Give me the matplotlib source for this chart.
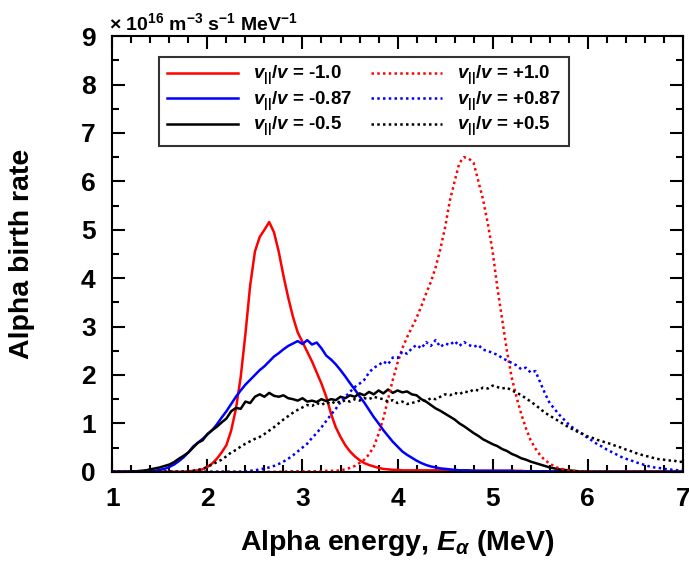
import numpy as np
import matplotlib
matplotlib.use('Agg')
import matplotlib.pyplot as plt
from matplotlib.ticker import MultipleLocator

plt.rcParams['font.family'] = ['Liberation Sans', 'DejaVu Sans']
plt.rcParams['font.weight'] = 'bold'
plt.rcParams['mathtext.fontset'] = 'custom'
plt.rcParams['mathtext.rm'] = 'Liberation Sans:bold'
plt.rcParams['mathtext.it'] = 'Liberation Sans:italic:bold'
plt.rcParams['mathtext.bf'] = 'Liberation Sans:bold'

# energy grid, 1 - 7 MeV in 0.05 MeV steps
energy = np.linspace(1.0, 7.0, 121)

# alpha birth rate (x 1e16 m^-3 s^-1 MeV^-1)
neg_100 = [0, 0, 0, 0, 0, 0, 0, 0, 0, 0,
           0, 0, 0, 0, 0, 0, 0.01, 0.02, 0.03, 0.05,
           0.1, 0.17, 0.27, 0.4, 0.55, 0.85, 1.3, 1.95, 2.85, 3.85,
           4.55, 4.85, 5.0, 5.16, 4.95, 4.55, 4.05, 3.6, 3.2, 2.88,
           2.68, 2.48, 2.28, 2.05, 1.82, 1.55, 1.2, 0.92, 0.72, 0.55,
           0.42, 0.32, 0.24, 0.18, 0.14, 0.11, 0.08, 0.06, 0.05, 0.04,
           0.04, 0.03, 0.03, 0.03, 0.03, 0.03, 0.03, 0.03, 0.03, 0.03,
           0.03, 0.03, 0.03, 0.03, 0.03, 0.02, 0.02, 0.02, 0.02, 0.02,
           0.02, 0.02, 0.02, 0.02, 0.02, 0.02, 0.02, 0.01, 0.01, 0.01,
           0.01, 0.01, 0.01, 0.01, 0.01, 0, 0, 0, 0, 0,
           0, 0, 0, 0, 0, 0, 0, 0, 0, 0,
           0, 0, 0, 0, 0, 0, 0, 0, 0, 0,
           0]
neg_087 = [0, 0, 0, 0, 0, 0, 0, 0, 0.01, 0.02,
           0.04, 0.06, 0.1, 0.15, 0.22, 0.3, 0.4, 0.52, 0.6, 0.68,
           0.77, 0.86, 0.98, 1.12, 1.25, 1.4, 1.55, 1.68, 1.8, 1.9,
           2.0, 2.1, 2.18, 2.28, 2.38, 2.45, 2.53, 2.6, 2.65, 2.7,
           2.64, 2.72, 2.63, 2.67, 2.55, 2.4, 2.32, 2.22, 2.1, 1.97,
           1.83, 1.7, 1.56, 1.43, 1.28, 1.13, 1.0, 0.86, 0.74, 0.62,
           0.52, 0.42, 0.35, 0.29, 0.23, 0.18, 0.14, 0.11, 0.09, 0.07,
           0.06, 0.05, 0.04, 0.03, 0.03, 0.03, 0.02, 0.02, 0.02, 0.02,
           0.02, 0.02, 0.02, 0.02, 0.02, 0.01, 0.01, 0.01, 0.01, 0.01,
           0.01, 0.01, 0.01, 0.01, 0.01, 0.01, 0, 0, 0, 0,
           0, 0, 0, 0, 0, 0, 0, 0, 0, 0,
           0, 0, 0, 0, 0, 0, 0, 0, 0, 0,
           0]
neg_050 = [0, 0, 0, 0, 0.01, 0.01, 0.02, 0.03, 0.05, 0.07,
           0.09, 0.12, 0.15, 0.2, 0.27, 0.33, 0.4, 0.5, 0.6, 0.65,
           0.78, 0.86, 0.93, 1.02, 1.1, 1.25, 1.32, 1.3, 1.45, 1.42,
           1.55, 1.6, 1.55, 1.63, 1.57, 1.55, 1.58, 1.52, 1.5, 1.47,
           1.52, 1.45, 1.47, 1.44, 1.5, 1.46, 1.5, 1.48, 1.55, 1.52,
           1.58, 1.55, 1.62, 1.58, 1.65, 1.6, 1.68, 1.62, 1.7, 1.63,
           1.68, 1.64, 1.66, 1.6, 1.58, 1.5, 1.45, 1.38, 1.31, 1.26,
           1.2, 1.14, 1.08, 1.0, 0.94, 0.87, 0.8, 0.74, 0.67, 0.62,
           0.57, 0.53, 0.47, 0.43, 0.37, 0.33, 0.28, 0.25, 0.21, 0.18,
           0.15, 0.12, 0.09, 0.07, 0.05, 0.04, 0.03, 0.02, 0.01, 0,
           0, 0, 0, 0, 0, 0, 0, 0, 0, 0,
           0, 0, 0, 0, 0, 0, 0, 0, 0, 0,
           0]
pos_100 = [0, 0, 0, 0, 0, 0, 0, 0, 0, 0,
           0, 0, 0, 0, 0, 0, 0, 0, 0, 0,
           0, 0, 0, 0, 0, 0, 0, 0, 0, 0,
           0, 0, 0, 0, 0, 0, 0, 0.01, 0.01, 0.01,
           0.01, 0.01, 0.01, 0.01, 0.01, 0.02, 0.02, 0.02, 0.03, 0.05,
           0.08, 0.12, 0.18, 0.25, 0.36, 0.52, 0.78, 1.1, 1.5, 1.9,
           2.25, 2.55, 2.78, 2.98, 3.18, 3.42, 3.68, 3.92, 4.22, 4.6,
           5.05, 5.6, 6.0, 6.38, 6.5, 6.47, 6.38, 6.0, 5.62, 5.12,
           4.55, 3.8, 3.15, 2.5, 1.95, 1.55, 1.2, 0.9, 0.65, 0.48,
           0.34, 0.24, 0.17, 0.11, 0.07, 0.05, 0.03, 0.02, 0.01, 0.01,
           0, 0, 0, 0, 0, 0, 0, 0, 0, 0,
           0, 0, 0, 0, 0, 0, 0, 0, 0, 0,
           0]
pos_087 = [0, 0, 0, 0, 0, 0, 0, 0, 0, 0,
           0, 0, 0, 0, 0, 0, 0, 0, 0, 0,
           0, 0, 0, 0, 0, 0, 0, 0, 0.01, 0.02,
           0.03, 0.05, 0.07, 0.09, 0.12, 0.16, 0.21, 0.27, 0.34, 0.42,
           0.5, 0.58, 0.7, 0.8, 0.92, 1.05, 1.18, 1.3, 1.44, 1.55,
           1.65, 1.75, 1.82, 1.9, 2.05, 2.15, 2.2, 2.28, 2.22, 2.36,
           2.35, 2.48, 2.44, 2.55, 2.62, 2.55, 2.68, 2.6, 2.72, 2.58,
           2.65, 2.62, 2.7, 2.6, 2.68, 2.62, 2.58, 2.62, 2.52, 2.5,
           2.45, 2.42, 2.35, 2.3, 2.25, 2.2, 2.12, 2.15, 2.05, 2.08,
           1.85, 1.62, 1.42, 1.3, 1.18, 1.08, 0.98, 0.9, 0.84, 0.77,
           0.7, 0.64, 0.57, 0.52, 0.46, 0.41, 0.36, 0.31, 0.27, 0.24,
           0.2, 0.17, 0.14, 0.11, 0.09, 0.08, 0.06, 0.05, 0.04, 0.03,
           0.02]
pos_050 = [0, 0, 0, 0, 0, 0, 0, 0, 0, 0,
           0, 0, 0, 0, 0, 0, 0.01, 0.02, 0.04, 0.06,
           0.1, 0.15, 0.2, 0.25, 0.32, 0.4, 0.45, 0.52, 0.58, 0.63,
           0.68, 0.72, 0.78, 0.85, 0.92, 1.0, 1.08, 1.15, 1.22, 1.28,
           1.33, 1.38, 1.36, 1.42, 1.38, 1.44, 1.4, 1.46, 1.43, 1.48,
           1.45, 1.5, 1.47, 1.52, 1.5, 1.55, 1.52, 1.5, 1.45, 1.48,
           1.42, 1.45, 1.4, 1.42, 1.45, 1.48, 1.46, 1.52, 1.5, 1.55,
           1.6, 1.58, 1.63, 1.6, 1.66, 1.64, 1.7, 1.68, 1.74, 1.72,
           1.78, 1.75, 1.72, 1.74, 1.68, 1.64, 1.58, 1.52, 1.45, 1.38,
           1.3, 1.22, 1.16, 1.1, 1.04, 0.98, 0.92, 0.87, 0.82, 0.78,
           0.73, 0.7, 0.66, 0.63, 0.6, 0.57, 0.53, 0.5, 0.46, 0.43,
           0.39, 0.36, 0.33, 0.31, 0.28, 0.26, 0.25, 0.23, 0.24, 0.2,
           0.21]

labels_neg = [r'$v_{||}/v$ = -1.0', r'$v_{||}/v$ = -0.87', r'$v_{||}/v$ = -0.5']
labels_pos = [r'$v_{||}/v$ = +1.0', r'$v_{||}/v$ = +0.87', r'$v_{||}/v$ = +0.5']
colors = ['#ff0000', '#0000ff', '#000000']

fig = plt.figure(figsize=(6.89, 5.65), dpi=100)
ax = fig.add_axes([0.163, 0.165, 0.828, 0.771])

dotted = (0, (1, 1.3))
for y, lab, c in zip([neg_100, neg_087, neg_050], labels_neg, colors):
    ax.plot(energy, y, color=c, lw=1.8, label=lab)
for y, lab, c in zip([pos_100, pos_087, pos_050], labels_pos, colors):
    ax.plot(energy, y, color=c, lw=1.8, ls=dotted, label=lab)

ax.set_xlim(1, 7)
ax.set_ylim(0, 9)
ax.xaxis.set_major_locator(MultipleLocator(1))
ax.xaxis.set_minor_locator(MultipleLocator(0.2))
ax.yaxis.set_major_locator(MultipleLocator(1))
ax.yaxis.set_minor_locator(MultipleLocator(0.5))
ax.tick_params(which='both', direction='in', top=True, right=True, width=1.5)
ax.tick_params(which='major', length=9.5, labelsize=19)
ax.tick_params(which='minor', length=5)
ax.tick_params(axis='x', which='major', pad=11)
ax.tick_params(axis='y', which='major', pad=12)
for s in ax.spines.values():
    s.set_linewidth(1.5)

ax.set_xlabel(r'Alpha energy, $E_\alpha$ (MeV)', fontsize=20.5, fontweight='bold')
ax.set_ylabel('Alpha birth rate', fontsize=20.5, fontweight='bold')
ax.xaxis.set_label_coords(0.5, -0.128)
ax.yaxis.set_label_coords(-0.135, 0.5)
fig.text(0.158, 0.947, r'$\times$ 10$^{16}$ m$^{-3}$ s$^{-1}$ MeV$^{-1}$', fontsize=14, fontweight='bold')

leg = ax.legend(ncol=2, loc='upper left', bbox_to_anchor=(0.082, 0.75, 0.718, 0.203),
                mode='expand', fontsize=13.5, frameon=True, fancybox=False,
                handlelength=3.8, handletextpad=0.8, columnspacing=2.0,
                labelspacing=0.12, borderpad=0.4, borderaxespad=0)
leg.get_frame().set_edgecolor('black')
leg.get_frame().set_linewidth(1.5)

fig.savefig('out.png', dpi=100)
